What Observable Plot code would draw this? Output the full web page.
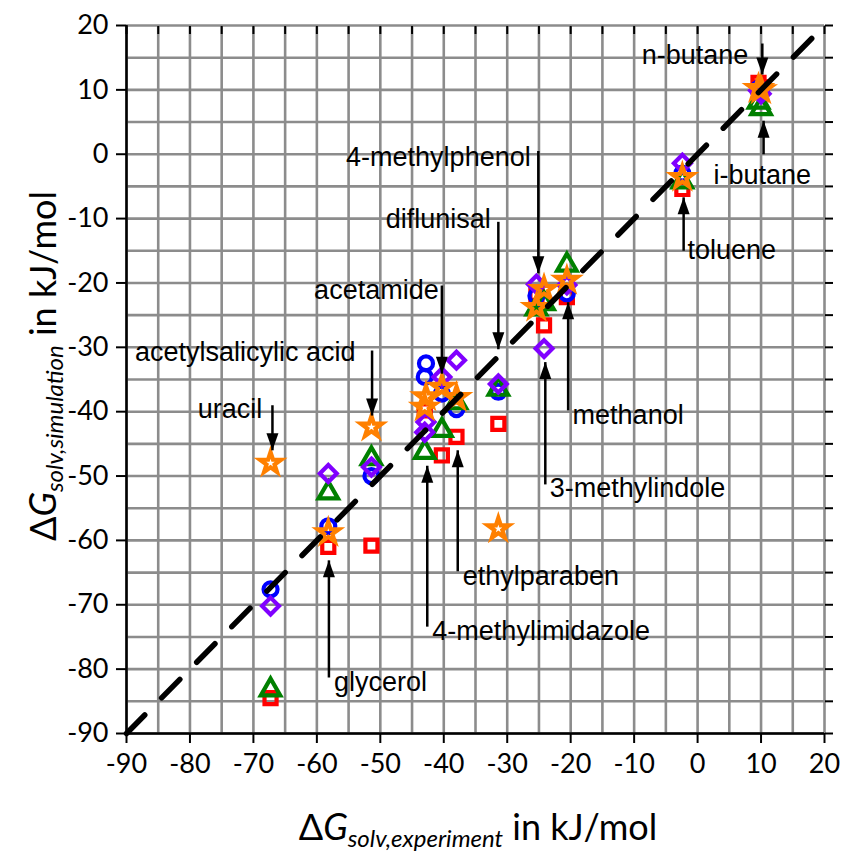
<!DOCTYPE html>
<html><head><meta charset="utf-8">
<script src="https://cdn.jsdelivr.net/npm/d3@7"></script>
<script src="https://cdn.jsdelivr.net/npm/@observablehq/plot@0.6"></script>
<style>body{margin:0;background:#fff} #chart svg{display:block}</style>
</head><body><div id="chart"></div>
<script>
// ---- data ----
const molecules = ["uracil","glycerol","acetylsalicylic acid","4-methylimidazole","(unlabeled)","acetamide","ethylparaben","diflunisal","4-methylphenol","3-methylindole","methanol","toluene","n-butane","i-butane"];
const experiment = [-67.3,-58.2,-51.4,-43.0,-42.8,-40.3,-38.0,-31.4,-25.4,-24.2,-20.6,-2.4,9.6,10.0];
const circleSeries   = [-67.6,-57.8,-50.0,-34.6,-32.5,-37.2,-39.6,-36.9,-22.0,-22.7,-21.6,-3.0,10.2,9.8];
const squareSeries   = [-84.5,-61.0,-60.8,-39.8,null,-46.8,-43.9,-41.9,-21.7,-26.6,-22.2,-5.4,11.1,10.4];
const triangleSeries = [-83.2,-52.6,-47.3,-46.3,null,-42.9,-38.6,-36.5,-24.0,-23.2,-17.2,-4.3,8.1,7.1];
const diamondSeries  = [-70.2,-49.6,-48.6,-43.2,-41.6,-34.6,-32.0,-35.7,-20.2,-30.2,-20.3,-1.4,9.9,9.4];
const starSeries     = [-48.0,-58.8,-42.4,-39.3,-37.7,-36.2,-37.8,-58.2,-23.8,-21.0,-19.6,-3.6,10.2,10.0];

const majorTicks = d3.range(-90, 21, 10);
const minorTicks = d3.range(-90, 21, 5);
const diagonal = [-90, 18.3];

// annotations
const labels      = ["n-butane","i-butane","toluene","4-methylphenol","diflunisal","acetamide","acetylsalicylic acid","uracil","glycerol","4-methylimidazole","ethylparaben","3-methylindole","methanol"];
const labelX      = [8.0, 2.5, -1.6, -26.3, -32.6, -40.8, -53.9, -68.6, -57.3, -41.8, -37.0, -23.3, -19.7];
const labelY      = [15.3, -3.3, -15.0, -0.5, -10.1, -21.2, -30.8, -39.6, -82.0, -74.2, -65.6, -51.9, -40.6];
const labelAnchor = ["end","start","start","end","end","end","end","end","start","start","start","start","start"];
const arrowX      = [10.2, 10.4, -2.2, -25.1, -31.4, -40.3, -51.3, -67.0, -58.1, -42.6, -37.8, -24.0, -20.4];
const arrowBase   = [17.2, 0.0, -15.0, 0.5, -10.5, -20.4, -30.5, -39.0, -81.3, -73.4, -64.8, -51.3, -39.8];
const arrowTip    = [12.4, 5.2, -6.7, -18.5, -30.3, -34.1, -40.6, -46.0, -63.1, -48.4, -46.0, -32.3, -23.0];

// ---- build tables ----
const series = [
  {values: squareSeries,   symbol: "square",   color: "#ff0000", r: 6.8},
  {values: circleSeries,   symbol: "circle",   color: "#0000ff", r: 7},
  {values: triangleSeries, symbol: "triangle", color: "#008000", r: 7.2},
  {values: diamondSeries,  symbol: "diamond2", color: "#8000ff", r: 7.6},
  {values: starSeries,     symbol: "star",     color: "#ff8000", r: 6.6}
];
const ann = labels.map((label, i) => ({label, tx: labelX[i], ty: labelY[i], anchor: labelAnchor[i],
  ax: arrowX[i], ay1: arrowBase[i], ay2: arrowTip[i], rot: arrowTip[i] < arrowBase[i] ? 180 : 0}));

const arrowHead = {draw(ctx) { const w = 12, h = 17; ctx.moveTo(0, 0); ctx.lineTo(-w / 2, h); ctx.lineTo(w / 2, h); ctx.closePath(); }};

const fmt = d => String(d);
const tickFont = "Lato, 'Open Sans', sans-serif";
const annFont = "'Liberation Sans', Arial, sans-serif";

const marks = [
  Plot.gridX(minorTicks, {stroke: "#8c8c8c", strokeOpacity: 1, strokeWidth: 2.6}),
  Plot.gridY(minorTicks, {stroke: "#8c8c8c", strokeOpacity: 1, strokeWidth: 2.6}),
  Plot.axisX({ticks: majorTicks, tickSize: 10, tickPadding: 10, tickFormat: fmt, stroke: "black", strokeWidth: 2, fontSize: 27, fontFamily: tickFont, fill: "black"}),
  Plot.axisY({ticks: majorTicks, tickSize: 10, tickPadding: 8, tickFormat: fmt, stroke: "black", strokeWidth: 2, fontSize: 27, fontFamily: tickFont, fill: "black"}),
  Plot.axisX({anchor: "top", ticks: minorTicks, tickSize: -8, tickFormat: () => "", stroke: "black", strokeWidth: 2}),
  Plot.axisY({anchor: "right", ticks: minorTicks, tickSize: 8, tickFormat: () => "", stroke: "black", strokeWidth: 2}),
  Plot.ruleX([-90], {stroke: "black", strokeWidth: 2.5}),
  Plot.ruleY([-90], {stroke: "black", strokeWidth: 2.5}),
  ...series.map(s => Plot.dot(experiment.map((x, i) => ({x, y: s.values[i]})).filter(d => d.y != null),
    {x: "x", y: "y", symbol: s.symbol, stroke: s.color, fill: "none", strokeWidth: 4.2, r: s.r})),
  Plot.line(diagonal.map(v => ({x: v, y: v})), {x: "x", y: "y", stroke: "black", strokeWidth: 5.5, strokeDasharray: "26,24"}),
  Plot.text(ann.filter(d => d.anchor === "start"), {x: "tx", y: "ty", text: "label", textAnchor: "start", fontSize: 27, fontFamily: annFont, fill: "black", ariaLabel: "annotation"}),
  Plot.text(ann.filter(d => d.anchor === "end"), {x: "tx", y: "ty", text: "label", textAnchor: "end", fontSize: 27, fontFamily: annFont, fill: "black", ariaLabel: "annotation"}),
  Plot.link(ann, {x1: "ax", y1: "ay1", x2: "ax", y2: "ay2", stroke: "black", strokeWidth: 2.5}),
  Plot.dot(ann, {x: "ax", y: "ay2", symbol: arrowHead, rotate: "rot", fill: "black", stroke: "none", r: 5})
];

const chart = Plot.plot({
  width: 850, height: 856,
  marginLeft: 126, marginRight: 26, marginTop: 25, marginBottom: 123,
  x: {domain: [-90, 20], label: null},
  y: {domain: [-90, 20], label: null},
  style: {background: "white", overflow: "visible"},
  marks
});
document.getElementById("chart").appendChild(chart);

// white boxes behind annotation labels
const svg = d3.select(chart);
svg.selectAll('g[aria-label="annotation"] text').each(function() {
  const b = this.getBBox();
  const r = document.createElementNS("http://www.w3.org/2000/svg", "rect");
  r.setAttribute("x", b.x - 3); r.setAttribute("y", b.y - 1);
  r.setAttribute("width", b.width + 6); r.setAttribute("height", b.height + 2);
  r.setAttribute("fill", "white");
  this.parentNode.insertBefore(r, this);
});

// axis titles with subscripts
const titleFont = "Lato, 'Open Sans', sans-serif";
const xt = svg.append("text").attr("x", 478).attr("y", 840).attr("text-anchor", "middle")
  .attr("font-family", titleFont).attr("font-size", 36).attr("fill", "black");
xt.append("tspan").text("Δ");
xt.append("tspan").attr("font-style", "italic").text("G");
xt.append("tspan").attr("font-style", "italic").attr("font-size", 24).attr("dy", 7).text("solv,experiment");
xt.append("tspan").attr("dy", -7).text(" in kJ/mol");

const yt = svg.append("text").attr("transform", "translate(56,366) rotate(-90)").attr("text-anchor", "middle")
  .attr("font-family", titleFont).attr("font-size", 36).attr("fill", "black");
yt.append("tspan").text("Δ");
yt.append("tspan").attr("font-style", "italic").text("G");
yt.append("tspan").attr("font-style", "italic").attr("font-size", 24).attr("dy", 7).text("solv,simulation");
yt.append("tspan").attr("dy", -7).text(" in kJ/mol");
</script>
</body></html>
